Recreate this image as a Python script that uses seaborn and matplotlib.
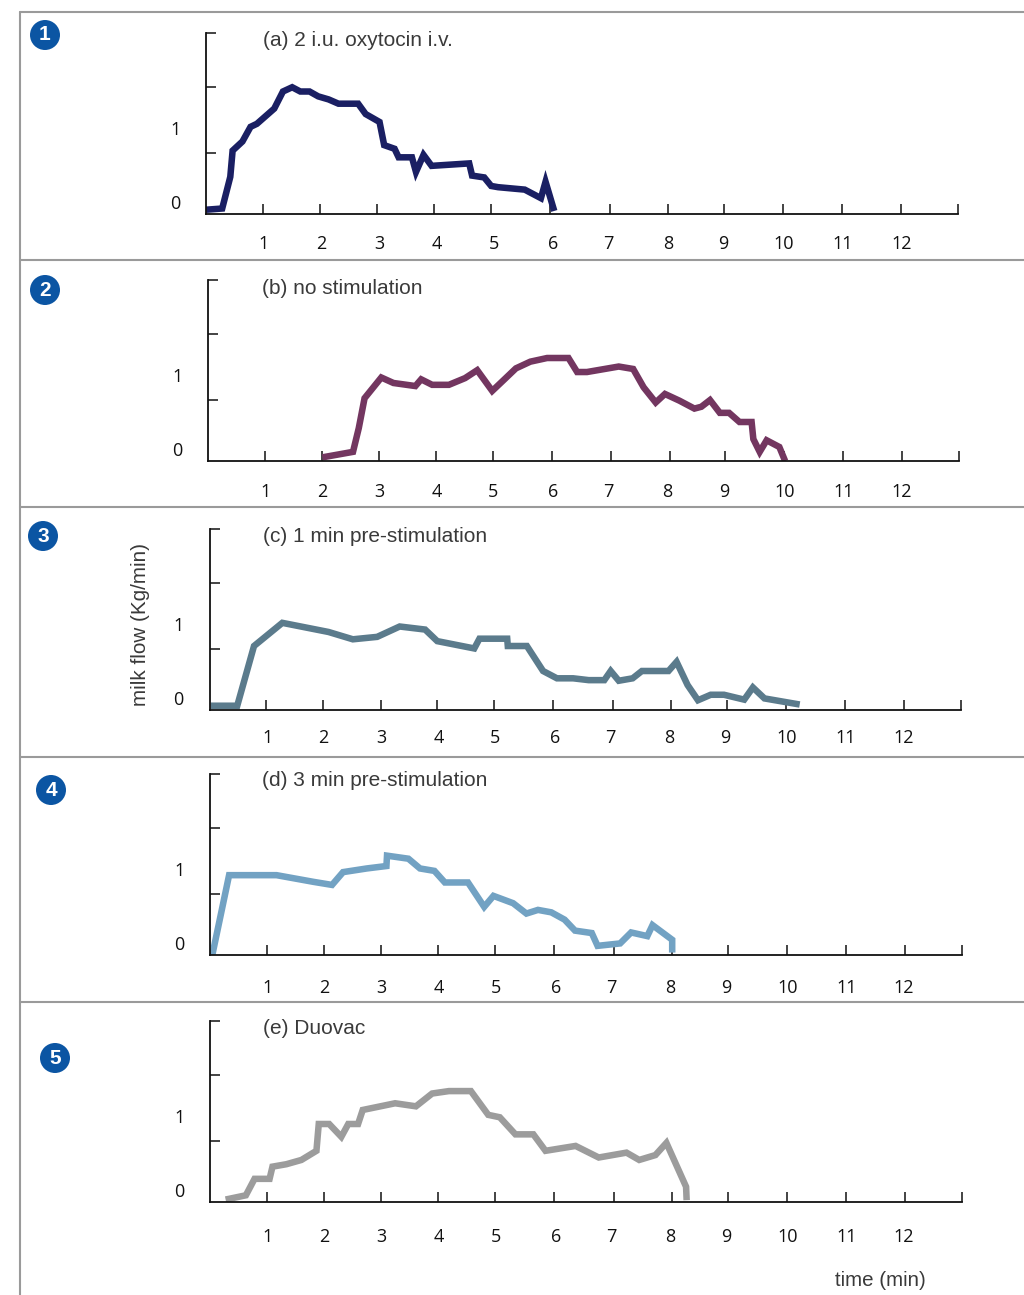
import matplotlib
matplotlib.use('Agg')
import matplotlib.pyplot as plt
from matplotlib.patches import Circle
import seaborn as sns

# courbes : temps (min), debit (unites de graduation)
time_a = [0, 0.28, 0.42, 0.46, 0.63, 0.77, 0.88, 1.18, 1.33, 1.49, 1.63, 1.79, 1.94, 2.12, 2.29, 2.63, 2.76,
          3.00, 3.08, 3.26, 3.33, 3.56, 3.63, 3.76, 3.90, 4.55, 4.60, 4.81, 4.93, 5.05, 5.51, 5.79, 5.87, 6.02]
flow_a = [0.07, 0.09, 0.61, 1.04, 1.19, 1.43, 1.48, 1.73, 2.01, 2.08, 2.01, 2.01, 1.93, 1.88, 1.81, 1.81, 1.64,
          1.51, 1.13, 1.07, 0.93, 0.93, 0.69, 0.97, 0.79, 0.83, 0.63, 0.60, 0.46, 0.44, 0.40, 0.26, 0.53, 0.05]

time_b = [1.98, 2.51, 2.61, 2.71, 3.00, 3.21, 3.59, 3.69, 3.88, 4.17, 4.45, 4.66, 4.92, 5.12, 5.33, 5.58, 5.87,
          6.24, 6.39, 6.56, 7.11, 7.36, 7.54, 7.75, 7.91, 8.16, 8.42, 8.54, 8.69, 8.86, 9.02, 9.20, 9.41, 9.44,
          9.55, 9.67, 9.89, 9.99]
flow_b = [0.06, 0.15, 0.54, 1.03, 1.37, 1.28, 1.23, 1.34, 1.25, 1.25, 1.36, 1.49, 1.15, 1.33, 1.52, 1.63, 1.69,
          1.69, 1.46, 1.46, 1.55, 1.51, 1.21, 0.96, 1.10, 0.99, 0.86, 0.89, 1.00, 0.79, 0.79, 0.64, 0.64, 0.36,
          0.15, 0.34, 0.23, 0.0]

time_c = [0.02, 0.48, 0.77, 1.26, 2.06, 2.48, 2.90, 3.29, 3.73, 3.94, 4.58, 4.67, 5.15, 5.16, 5.49, 5.77, 6.01,
          6.29, 6.56, 6.83, 6.94, 7.08, 7.32, 7.48, 7.94, 8.08, 8.27, 8.45, 8.67, 8.90, 9.25, 9.40, 9.60, 10.21]
flow_c = [0.07, 0.07, 1.05, 1.43, 1.28, 1.16, 1.20, 1.37, 1.32, 1.13, 1.01, 1.17, 1.17, 1.05, 1.05, 0.64, 0.52,
          0.52, 0.49, 0.49, 0.64, 0.48, 0.52, 0.64, 0.64, 0.79, 0.41, 0.16, 0.25, 0.25, 0.17, 0.37, 0.19, 0.09]

time_d = [0.04, 0.33, 1.15, 1.79, 2.11, 2.30, 2.71, 3.05, 3.06, 3.43, 3.63, 3.88, 4.06, 4.46, 4.74, 4.90, 5.24,
          5.47, 5.67, 5.90, 6.13, 6.31, 6.60, 6.70, 7.09, 7.28, 7.56, 7.65, 7.99, 7.99]
flow_d = [0.0, 1.31, 1.31, 1.20, 1.15, 1.36, 1.42, 1.46, 1.63, 1.58, 1.42, 1.38, 1.19, 1.19, 0.79, 0.97, 0.85,
          0.68, 0.74, 0.70, 0.58, 0.40, 0.36, 0.15, 0.19, 0.37, 0.31, 0.49, 0.25, 0.04]

time_e = [0.27, 0.62, 0.77, 1.03, 1.08, 1.32, 1.58, 1.84, 1.88, 2.06, 2.27, 2.39, 2.56, 2.64, 3.20, 3.56, 3.84,
          4.13, 4.51, 4.81, 5.01, 5.28, 5.59, 5.80, 6.32, 6.72, 7.20, 7.42, 7.70, 7.89, 8.23, 8.24]
flow_e = [0.04, 0.11, 0.38, 0.38, 0.58, 0.62, 0.69, 0.84, 1.28, 1.28, 1.07, 1.28, 1.28, 1.51, 1.62, 1.57, 1.78,
          1.82, 1.82, 1.43, 1.39, 1.11, 1.11, 0.84, 0.92, 0.73, 0.81, 0.69, 0.77, 0.97, 0.25, 0.03]

titles = ['(a) 2 i.u. oxytocin i.v.', '(b) no stimulation', '(c) 1 min pre-stimulation',
          '(d) 3 min pre-stimulation', '(e) Duovac']
colors = ['#1a1f63', '#733660', '#5b7b8c', '#72a2c3', '#9c9c9c']
times = [time_a, time_b, time_c, time_d, time_e]
flows = [flow_a, flow_b, flow_c, flow_d, flow_e]

# graduations (pas tout a fait regulieres sur l'original)
x_marks = [0.985, 1.97, 2.96, 3.94, 4.93, 5.95, 6.98, 7.99, 8.95, 9.97, 10.99, 12.01, 13]
x_label_pos_top = [1.0, 2.0, 3.0, 3.99, 4.98, 6.0, 6.95, 7.99, 8.95, 9.99, 11.01, 12.03]
x_label_pos = [1.0, 1.97, 2.97, 3.96, 4.94, 5.98, 6.93, 7.95, 8.93, 9.99, 11.0, 12.0]
x_labels = ['1', '2', '3', '4', '5', '6', '7', '8', '9', '10', '11', '12']
y_marks = [1.0, 2.08, 2.97]
y_label_pos = [0.2, 1.41]
y_labels = ['0', '1']

# position des panneaux en pixels : gauche, droite, base, haut
boxes = [(206, 958, 214, 33), (208, 959, 461, 280), (209.5, 961, 710, 529), (210, 962, 955, 774), (210, 962, 1202, 1021)]
title_pos = [(263, 41), (262, 288), (263, 537), (262, 781), (263, 1029)]
badge_pos = [(45, 35), (45, 290), (43, 536), (51, 790), (55, 1058)]
x_pads = [15, 15.5, 14, 17.5, 18.5]

W, H = 1024, 1295

sns.set_theme(style='white')
plt.rcParams['font.family'] = ['Liberation Sans', 'DejaVu Sans']
ink = '#111111'
text_col = '#3a3a3a'

fig = plt.figure(figsize=(W / 100, H / 100), dpi=100)

for i, (left, right, base, top) in enumerate(boxes):
    ax = fig.add_axes([left / W, 1 - base / H, (right - left) / W, (base - top) / H])
    sns.lineplot(x=times[i], y=flows[i], sort=False, estimator=None, color=colors[i], linewidth=4.7,
                 solid_joinstyle='miter', solid_capstyle='butt', ax=ax, legend=False)
    ax.set_xlim(0, 13)
    ax.set_ylim(0, 2.97)
    ax.patch.set_alpha(0)
    sns.despine(ax=ax)
    for side in ['left', 'bottom']:
        ax.spines[side].set_linewidth(1.3)
        ax.spines[side].set_color(ink)
    label_pos = x_label_pos_top if i == 0 else x_label_pos
    ax.set_xticks(label_pos, x_labels, family='Open Sans')
    ax.set_xticks(x_marks, minor=True)
    ax.xaxis.remove_overlapping_locs = False
    ax.set_yticks(y_label_pos, y_labels, family='Open Sans')
    ax.set_yticks(y_marks, minor=True)
    ax.tick_params(which='major', axis='x', length=0, pad=x_pads[i], labelsize=13, labelcolor=ink)
    ax.tick_params(which='major', axis='y', length=0, pad=18.5, labelsize=13, labelcolor=ink)
    ax.tick_params(which='minor', direction='in', length=7, width=1.1, color=ink)
    ax.tick_params(which='minor', bottom=True, left=True)

# cadre, pastilles et textes dans un axe en pixels
over = fig.add_axes([0, 0, 1, 1], zorder=5)
over.set_xlim(0, W)
over.set_ylim(H, 0)
over.axis('off')
frame = '#9a9a9a'
over.plot([20, 20], [12, H], color=frame, lw=1.5)
for y in [12, 260, 507, 757, 1002]:
    over.plot([20, W], [y, y], color=frame, lw=1.5)

for i in range(5):
    x, y = badge_pos[i]
    over.add_patch(Circle((x, y), 15, color='#0b55a3', lw=0))
    over.text(x, y, str(i + 1), color='white', fontsize=15, fontweight='bold', ha='center', va='center')
    over.text(title_pos[i][0], title_pos[i][1], titles[i], color=text_col, fontsize=15, ha='left', va='center')

over.text(141, 624, 'milk flow (Kg/min)', color=text_col, fontsize=14.9, rotation=90, ha='center', va='center')
over.text(880, 1281, 'time (min)', color=text_col, fontsize=14.8, ha='center', va='center')

fig.savefig('out.png', dpi=100)
